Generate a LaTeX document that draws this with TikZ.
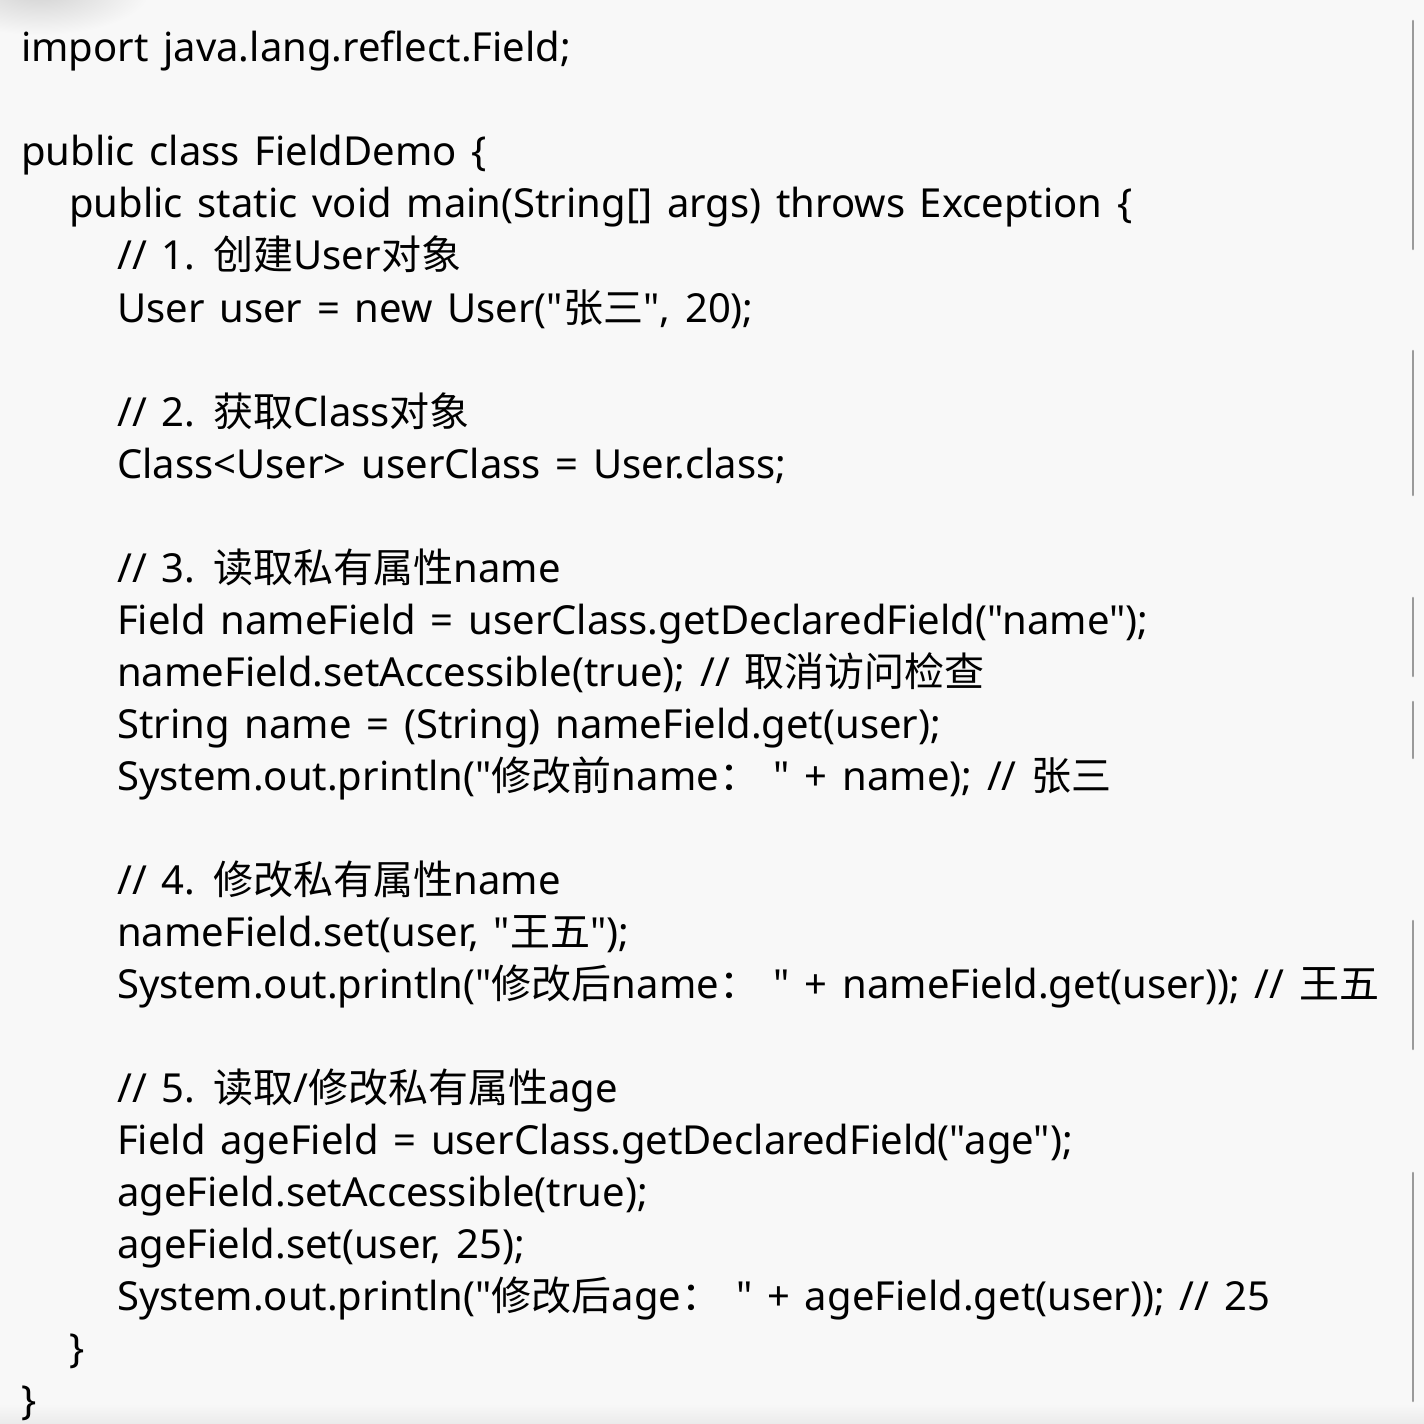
\documentclass[tikz,border=0pt]{standalone}
\usepackage{fontspec}
\newfontfamily\latinfont{Noto Sans}[WordSpace=1.42]
\newfontfamily\cjkfont{Noto Sans CJK SC}
\newcommand\zh[1]{{\cjkfont #1}}
\definecolor{paper}{HTML}{F8F8F8}
\definecolor{bar}{HTML}{9A9A9A}
\begin{document}
\begin{tikzpicture}[x=1bp,y=-1bp,line cap=round,
  code/.style={anchor=base west,inner sep=0pt,font=\latinfont\fontsize{40bp}{52bp}\selectfont}]
\def\xl{21} \def\tab{48} \def\yb{62} \def\dy{52}
\fill[paper] (0,0) rectangle (1424,1424);
\useasboundingbox (0,0) rectangle (1424,1424);
% shadows in the corners
\begin{scope}
\clip (0,0) rectangle (1424,1424);
\shade[inner color=black!18,outer color=paper] (40,-10) ellipse (110 and 45);
\shade[top color=paper,bottom color=black!8] (0,1404) rectangle (1424,1424);
\end{scope}
% scroll marks on the right
\foreach \ya/\yz in {21/249,351/495,598/676,702/758,921/1049,1173/1401}
\draw[bar,line width=2.6bp] (1413,\ya)--(1413,\yz);
% code lines: line number/indent/text
\foreach \n/\i/\t in {1/0/{import java.lang.reflect.Field;},
  3/0/{public class FieldDemo \{},
  4/1/{public static void main(String[] args) throws Exception \{},
  5/2/{// 1. \zh{创建}User\zh{对象}},
  6/2/{User user = new User("\zh{张三}", 20);},
  8/2/{// 2. \zh{获取}Class\zh{对象}},
  9/2/{Class<User> userClass = User.class;},
  11/2/{// 3. \zh{读取私有属性}name},
  12/2/{Field nameField = userClass.getDeclaredField("name");},
  13/2/{nameField.setAccessible(true); // \zh{取消访问检查}},
  14/2/{String name = (String) nameField.get(user);},
  15/2/{System.out.println("\zh{修改前}name\zh{：} " + name); // \zh{张三}},
  17/2/{// 4. \zh{修改私有属性}name},
  18/2/{nameField.set(user, "\zh{王五}");},
  19/2/{System.out.println("\zh{修改后}name\zh{：} " + nameField.get(user)); // \zh{王五}},
  21/2/{// 5. \zh{读取}/\zh{修改私有属性}age},
  22/2/{Field ageField = userClass.getDeclaredField("age");},
  23/2/{ageField.setAccessible(true);},
  24/2/{ageField.set(user, 25);},
  25/2/{System.out.println("\zh{修改后}age\zh{：} " + ageField.get(user)); // 25},
  26/1/{\}},
  27/0/{\}}}
\node[code] (l\n) at ({\xl+\tab*\i},{\yb+\dy*(\n-1)}) {\t};
\end{tikzpicture}
\end{document}
